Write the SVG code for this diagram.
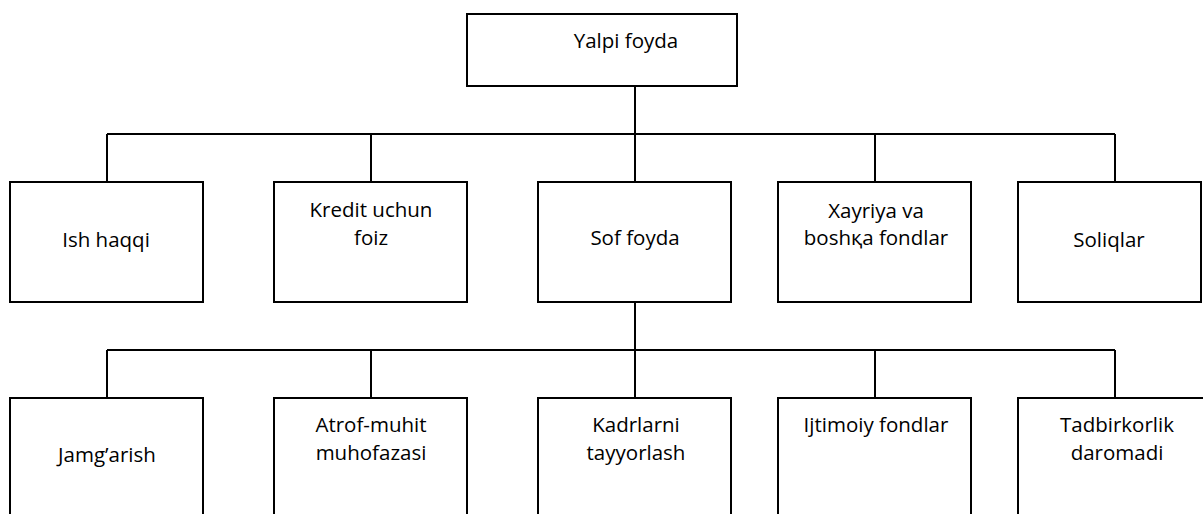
<svg xmlns="http://www.w3.org/2000/svg" width="1203" height="514" viewBox="0 0 1203 514">
<style>
.box{fill:#fff;stroke:#000;stroke-width:2}
.ln{fill:none;stroke:#000;stroke-width:2}
text{font-family:"Open Sans","Liberation Sans",sans-serif;font-size:20.5px;fill:#000;text-anchor:middle}
</style>
<rect width="1203" height="514" fill="#fff"/>
<g id="connectors">
<path class="ln" d="M635 86V134M107 134H1115M107 134V182M371 134V182M635 134V182M875 134V182M1115 134V182"/>
<path class="ln" d="M635 302V398M107 350H1115M107 350V398M371 350V398M875 350V398M1115 350V398"/>
</g>
<g id="n-yalpi"><rect class="box" x="467" y="14" width="270" height="72"/><text x="626" y="48">Yalpi foyda</text></g>
<g id="n-ish"><rect class="box" x="10" y="182" width="193" height="120"/><text x="106" y="247">Ish haqqi</text></g>
<g id="n-kredit"><rect class="box" x="274" y="182" width="193" height="120"/><text x="371" y="217">Kredit uchun</text><text x="371" y="245">foiz</text></g>
<g id="n-sof"><rect class="box" x="538" y="182" width="193" height="120"/><text x="635" y="245">Sof foyda</text></g>
<g id="n-xayriya"><rect class="box" x="778" y="182" width="193" height="120"/><text x="876" y="218">Xayriya va</text><text x="876" y="245">boshқa fondlar</text></g>
<g id="n-soliqlar"><rect class="box" x="1018" y="182" width="183" height="120"/><text x="1109" y="247">Soliqlar</text></g>
<g id="n-jamg"><rect class="box" x="10" y="398" width="193" height="130"/><text x="107" y="462">Jamg’arish</text></g>
<g id="n-atrof"><rect class="box" x="274" y="398" width="193" height="130"/><text x="371" y="432">Atrof-muhit</text><text x="371" y="460">muhofazasi</text></g>
<g id="n-kadr"><rect class="box" x="538" y="398" width="193" height="130"/><text x="636" y="432">Kadrlarni</text><text x="636" y="460">tayyorlash</text></g>
<g id="n-ijt"><rect class="box" x="778" y="398" width="193" height="130"/><text x="876" y="432">Ijtimoiy fondlar</text></g>
<g id="n-tadb"><rect class="box" x="1018" y="398" width="200" height="130"/><text x="1117" y="432">Tadbirkorlik</text><text x="1117" y="460">daromadi</text></g>
</svg>
